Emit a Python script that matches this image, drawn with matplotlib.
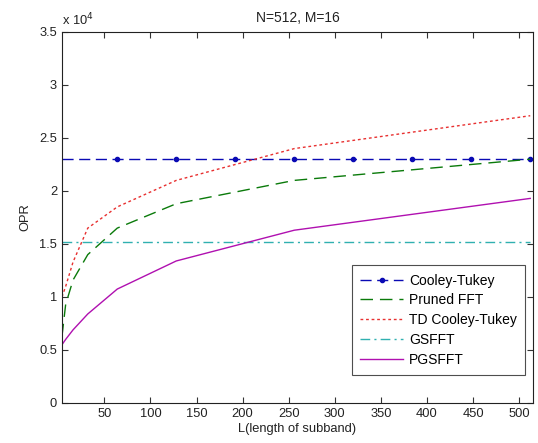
import matplotlib
matplotlib.use("Agg")
import matplotlib.pyplot as plt
from matplotlib.ticker import FuncFormatter

plt.rcParams['font.family'] = ['Liberation Sans', 'DejaVu Sans']

title = "N=512, M=16"
xlabel = "L(length of subband)"
ylabel = "OPR"

ct_x = [4, 64, 128, 192, 256, 320, 384, 448, 512]
ct_y = [23040] * 9

L = [4, 8, 16, 32, 64, 128, 256, 512]
pruned = [6300, 9300, 11600, 14000, 16500, 18800, 21000, 23000]
td_ct = [10000, 11000, 13300, 16500, 18500, 21000, 24000, 27100]
gsfft_x = [4, 512]
gsfft = [15160, 15160]
pgsfft = [5500, 6000, 6900, 8400, 10750, 13400, 16300, 19300]

FS = 10
TS = 9.3

fig = plt.figure(figsize=(5.38, 4.43), dpi=100)
ax = fig.add_axes([0.1152, 0.0903, 0.8755, 0.8375])

ax.plot(ct_x, ct_y, color='#0a0ab4', linestyle=(0, (8, 4)), marker='.', markersize=6,
        markevery=list(range(1, 9)), lw=1, label='Cooley-Tukey')
ax.plot(L, pruned, color='#0a7a0a', linestyle=(0, (9, 5)), lw=1, label='Pruned FFT')
ax.plot(L, td_ct, color='#e83030', linestyle=(0, (2, 2)), lw=1, label='TD Cooley-Tukey')
ax.plot(gsfft_x, gsfft, color='#30b0b0', linestyle=(0, (7, 3, 1.5, 3)), lw=1, label='GSFFT')
ax.plot(L, pgsfft, color='#b010b0', linestyle='-', lw=1, label='PGSFFT')

ax.set_xlim(4, 515)
ax.set_ylim(0, 35000)
ax.set_xticks([50, 100, 150, 200, 250, 300, 350, 400, 450, 500])
ax.set_yticks([0, 5000, 10000, 15000, 20000, 25000, 30000, 35000])
ax.yaxis.set_major_formatter(FuncFormatter(lambda v, p: ('%g' % (v / 1e4))))
ax.tick_params(direction='in', top=True, right=True, labelsize=TS, length=4, colors='#333333',
               labelcolor='#222222')
for s in ax.spines.values():
    s.set_color('#222222')
    s.set_linewidth(0.8)

ax.text(0.0, 1.01, r'x 10$^4$', transform=ax.transAxes, fontsize=TS, ha='left', va='bottom',
        color='#222222')
ax.set_title(title, fontsize=FS, pad=7, color='#222222')
ax.set_xlabel(xlabel, fontsize=TS, labelpad=2, color='#222222')
ax.set_ylabel(ylabel, fontsize=TS, labelpad=6, color='#222222')

leg = ax.legend(loc='lower right', bbox_to_anchor=(0.983, 0.075), borderaxespad=0,
                fontsize=FS, frameon=True, fancybox=False, edgecolor='#222222',
                handlelength=3.1, borderpad=0.6, labelspacing=0.42, handletextpad=0.4)
leg.get_frame().set_linewidth(0.8)

fig.savefig('out.png', dpi=100)
